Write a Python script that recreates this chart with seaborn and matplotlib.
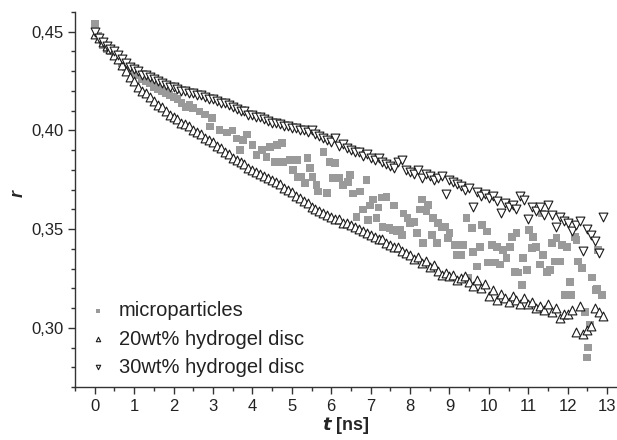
import numpy as np
import pandas as pd
import matplotlib
matplotlib.use("Agg")
import matplotlib.pyplot as plt
import seaborn as sns
from matplotlib.ticker import MultipleLocator, FuncFormatter

sns.set_style("ticks")
plt.rcParams['font.family'] = ['Liberation Sans', 'DejaVu Sans']

# sampling times of the hydrogel discs (0.1 ns channels)
t_disc = np.round(np.arange(130) * 0.1, 1)

# 20wt% hydrogel disc (up triangles)
r_20 = [0.449, 0.447, 0.445, 0.443, 0.441, 0.438, 0.436, 0.433, 0.430, 0.427,
        0.425, 0.422, 0.420, 0.419, 0.417, 0.415, 0.413, 0.412, 0.410, 0.408,
        0.407, 0.406, 0.404, 0.403, 0.402, 0.400, 0.399, 0.398, 0.396, 0.395,
        0.394, 0.392, 0.391, 0.389, 0.388, 0.386, 0.385, 0.384, 0.383, 0.381,
        0.380, 0.379, 0.378, 0.377, 0.376, 0.375, 0.374, 0.373, 0.371, 0.370,
        0.369, 0.367, 0.366, 0.364, 0.363, 0.361, 0.360, 0.359, 0.358, 0.357,
        0.356, 0.355, 0.355, 0.353, 0.353, 0.352, 0.351, 0.350, 0.349, 0.348,
        0.347, 0.346, 0.345, 0.345, 0.343, 0.342, 0.341, 0.341, 0.339, 0.338,
        0.337, 0.335, 0.336, 0.333, 0.334, 0.331, 0.332, 0.329, 0.327, 0.328,
        0.326, 0.327, 0.324, 0.325, 0.326, 0.323, 0.321, 0.324, 0.320, 0.322,
        0.316, 0.319, 0.314, 0.317, 0.315, 0.313, 0.316, 0.314, 0.312, 0.315,
        0.312, 0.313, 0.310, 0.311, 0.309, 0.312, 0.308, 0.310, 0.305, 0.307,
        0.307, 0.309, 0.298, 0.311, 0.297, 0.299, 0.301, 0.310, 0.308, 0.306]

# 30wt% hydrogel disc (down triangles)
r_30 = [0.450, 0.447, 0.445, 0.443, 0.441, 0.440, 0.438, 0.436, 0.434, 0.432,
        0.431, 0.430, 0.428, 0.428, 0.427, 0.426, 0.425, 0.424, 0.423, 0.422,
        0.422, 0.421, 0.420, 0.420, 0.419, 0.419, 0.418, 0.418, 0.417, 0.416,
        0.416, 0.415, 0.414, 0.414, 0.413, 0.412, 0.411, 0.410, 0.410, 0.408,
        0.408, 0.407, 0.407, 0.406, 0.405, 0.404, 0.404, 0.403, 0.402, 0.402,
        0.401, 0.401, 0.400, 0.400, 0.399, 0.400, 0.398, 0.397, 0.396, 0.395,
        0.394, 0.396, 0.392, 0.393, 0.391, 0.390, 0.389, 0.389, 0.387, 0.388,
        0.386, 0.385, 0.386, 0.384, 0.383, 0.382, 0.381, 0.384, 0.385, 0.380,
        0.379, 0.378, 0.380, 0.376, 0.378, 0.377, 0.375, 0.376, 0.377, 0.368,
        0.375, 0.374, 0.373, 0.372, 0.370, 0.371, 0.361, 0.369, 0.367, 0.368,
        0.366, 0.367, 0.364, 0.358, 0.363, 0.361, 0.362, 0.360, 0.367, 0.365,
        0.355, 0.361, 0.359, 0.361, 0.357, 0.362, 0.357, 0.351, 0.356, 0.354,
        0.353, 0.349, 0.352, 0.354, 0.339, 0.350, 0.347, 0.344, 0.338, 0.356]

# microparticles (grey squares)
mp_t = [0.0, 0.1, 0.2, 0.3, 0.4, 0.5, 0.6, 0.7, 0.8, 0.9,
        1.0, 1.1, 1.2, 1.3, 1.4, 1.5, 1.6, 1.7, 1.8, 1.9,
        2.0, 2.1, 2.2, 2.3, 2.4, 2.50, 2.66, 2.80, 2.92, 2.97,
        3.17, 3.35, 3.50, 3.60, 3.68, 3.76, 3.86, 4.00, 4.10, 4.24,
        4.36, 4.45, 4.57, 4.62, 4.75, 4.77, 4.95, 5.03, 5.13, 5.15,
        5.25, 5.33, 5.40, 5.46, 5.53, 5.63, 5.66, 5.80, 5.89, 5.96,
        6.05, 6.10, 6.20, 6.30, 6.43, 6.47, 6.56, 6.64, 6.73, 6.80,
        6.90, 6.93, 6.98, 7.06, 7.15, 7.20, 7.28, 7.30, 7.40, 7.48,
        7.55, 7.60, 7.66, 7.74, 7.80, 7.83, 7.94, 8.00, 8.10, 8.17,
        8.25, 8.30, 8.33, 8.42, 8.45, 8.55, 8.58, 8.68, 8.71, 8.80,
        8.88, 8.96, 9.00, 9.14, 9.18, 9.31, 9.35, 9.43, 9.47, 9.57,
        9.60, 9.70, 9.77, 9.82, 9.95, 9.98, 10.08, 10.15, 10.20, 10.28,
        10.36, 10.45, 10.53, 10.58, 10.66, 10.70, 10.74, 10.84, 10.87, 10.96,
        11.01, 11.09, 11.12, 11.20, 11.29, 11.35, 11.38, 11.47, 11.55, 11.60,
        11.67, 11.72, 11.80, 11.85, 11.93, 11.98, 12.06, 12.10, 12.18, 12.22,
        12.26, 12.36, 12.44, 12.49, 12.51, 12.56, 12.61, 12.70, 12.74, 12.77,
        12.87]
mp_r = [0.454, 0.448, 0.443, 0.441, 0.440, 0.438, 0.436, 0.434, 0.432, 0.431,
        0.429, 0.428, 0.426, 0.425, 0.424, 0.422, 0.421, 0.420, 0.419, 0.418,
        0.417, 0.416, 0.414, 0.412, 0.413, 0.4115, 0.4095, 0.408, 0.402, 0.4064,
        0.4003, 0.399, 0.400, 0.396, 0.390, 0.395, 0.398, 0.3927, 0.3876, 0.390,
        0.3866, 0.3917, 0.384, 0.3927, 0.3937, 0.384, 0.385, 0.380, 0.385, 0.3765,
        0.3765, 0.3735, 0.386, 0.381, 0.3765, 0.3725, 0.369, 0.389, 0.3684, 0.384,
        0.376, 0.3836, 0.376, 0.3725, 0.374, 0.3775, 0.368, 0.356, 0.369, 0.360,
        0.375, 0.3547, 0.362, 0.365, 0.3557, 0.361, 0.366, 0.351, 0.3664, 0.3505,
        0.3497, 0.362, 0.3487, 0.3497, 0.347, 0.358, 0.3557, 0.353, 0.3537, 0.348,
        0.360, 0.365, 0.343, 0.359, 0.3623, 0.347, 0.3557, 0.343, 0.353, 0.351,
        0.351, 0.3456, 0.348, 0.342, 0.337, 0.337, 0.342, 0.3557, 0.3253, 0.3507,
        0.3385, 0.331, 0.341, 0.352, 0.3487, 0.333, 0.342, 0.333, 0.341, 0.332,
        0.3395, 0.3355, 0.341, 0.346, 0.3284, 0.348, 0.328, 0.3218, 0.3355, 0.3294,
        0.3497, 0.3405, 0.346, 0.341, 0.332, 0.358, 0.337, 0.3284, 0.3294, 0.343,
        0.3335, 0.3456, 0.3335, 0.342, 0.3167, 0.341, 0.3233, 0.3167, 0.346, 0.3446,
        0.3335, 0.3304, 0.308, 0.2849, 0.290, 0.3016, 0.3254, 0.3193, 0.320, 0.3395,
        0.3167]

labels = ["microparticles", "20wt% hydrogel disc", "30wt% hydrogel disc"]

fig = plt.figure(figsize=(6.17, 4.40), dpi=100)
ax = fig.add_axes([75 / 617, 53 / 440, 542 / 617, 375 / 440])

sns.scatterplot(x=mp_t, y=mp_r, ax=ax, marker='s', s=30, color='#9a9a9a',
                edgecolor='none', label=labels[0], zorder=2)
sns.scatterplot(x=t_disc, y=r_20, ax=ax, marker='^', s=40, facecolor='white',
                edgecolor='#1a1a1a', linewidth=0.8, label=labels[1], zorder=3)
sns.scatterplot(x=t_disc, y=r_30, ax=ax, marker='v', s=40, facecolor='white',
                edgecolor='#1a1a1a', linewidth=0.8, label=labels[2], zorder=3)

ax.set_xlim(-0.5, 13.25)
ax.set_ylim(0.27, 0.46)
ax.xaxis.set_major_locator(MultipleLocator(1))
ax.xaxis.set_minor_locator(MultipleLocator(0.5))
ax.yaxis.set_major_locator(MultipleLocator(0.05))
ax.yaxis.set_minor_locator(MultipleLocator(0.01))
ax.yaxis.set_major_formatter(FuncFormatter(lambda v, p: f"{v:.2f}".replace('.', ',')))
ax.tick_params(which='major', length=5, width=1, color='#333333', labelsize=12,
               labelcolor='#222222')
ax.tick_params(which='minor', length=3, width=1, color='#333333')
sns.despine(ax=ax)
for s in ['left', 'bottom']:
    ax.spines[s].set_color('#333333')
    ax.spines[s].set_linewidth(1)

ax.set_xlabel(r"$\mathbfit{t}$ [ns]", fontsize=13, fontweight='bold', labelpad=1)
ax.set_ylabel("r", fontsize=13, fontweight='bold', fontstyle='italic')
ax.yaxis.set_label_coords(-0.09, 0.517)

leg = ax.legend(loc='upper left', bbox_to_anchor=(0.027, 0.228), frameon=False,
                fontsize=14.5, markerscale=0.5, handlelength=0.8, handletextpad=0.65,
                labelspacing=0.45, borderaxespad=0, borderpad=0)
for txt in leg.get_texts():
    txt.set_color('#222222')

fig.savefig("out.png", dpi=100)
